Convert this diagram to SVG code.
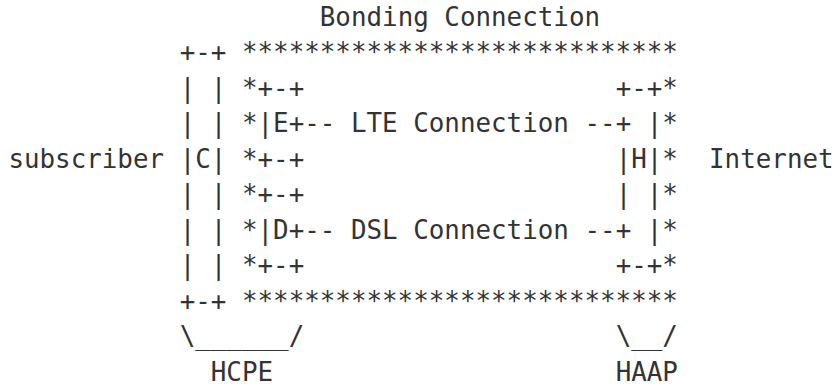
<svg xmlns="http://www.w3.org/2000/svg" width="834" height="385" viewBox="0 0 834 385">
<style>
text{font-family:"DejaVu Sans Mono","Liberation Mono",monospace;font-size:25.87px;fill:#333;white-space:pre}
</style>
<rect width="834" height="385" fill="#fff"/>
<g id="bonding">
<text x="319.8" y="26" xml:space="preserve">Bonding Connection</text>
<text x="241.95" y="61.45">****************************</text>
<text x="241.95" y="96.9">*</text>
<text x="241.95" y="132.35">*</text>
<text x="241.95" y="167.8">*</text>
<text x="241.95" y="203.25">*</text>
<text x="241.95" y="238.7">*</text>
<text x="241.95" y="274.15">*</text>
<text x="662.34" y="96.9">*</text>
<text x="662.34" y="132.35">*</text>
<text x="662.34" y="167.8">*</text>
<text x="662.34" y="203.25">*</text>
<text x="662.34" y="238.7">*</text>
<text x="662.34" y="274.15">*</text>
<text x="241.95" y="309.6">****************************</text>
</g>
<g id="hcpe">
<text x="179.67" y="61.45">+-+</text>
<text x="179.67" y="96.9" xml:space="preserve">| |</text>
<text x="179.67" y="132.35" xml:space="preserve">| |</text>
<text x="179.67" y="167.8">|C|</text>
<text x="179.67" y="203.25" xml:space="preserve">| |</text>
<text x="179.67" y="238.7" xml:space="preserve">| |</text>
<text x="179.67" y="274.15" xml:space="preserve">| |</text>
<text x="179.67" y="309.6">+-+</text>
<text x="179.67" y="345.05">\______/</text>
<text x="210.81" y="380.5">HCPE</text>
</g>
<g id="lte-port">
<text x="257.52" y="96.9">+-+</text>
<text x="257.52" y="132.35">|E+</text>
<text x="257.52" y="167.8">+-+</text>
</g>
<g id="dsl-port">
<text x="257.52" y="203.25">+-+</text>
<text x="257.52" y="238.7">|D+</text>
<text x="257.52" y="274.15">+-+</text>
</g>
<g id="haap">
<text x="615.63" y="96.9">+-+</text>
<text x="615.63" y="132.35" xml:space="preserve">+ |</text>
<text x="615.63" y="167.8">|H|</text>
<text x="615.63" y="203.25" xml:space="preserve">| |</text>
<text x="615.63" y="238.7" xml:space="preserve">+ |</text>
<text x="615.63" y="274.15">+-+</text>
<text x="615.63" y="345.05">\__/</text>
<text x="615.63" y="380.5">HAAP</text>
</g>
<g id="connectors">
<text x="304.23" y="132.35" xml:space="preserve">-- LTE Connection --</text>
<text x="304.23" y="238.7" xml:space="preserve">-- DSL Connection --</text>
</g>
<g id="subscriber">
<text x="8.4" y="167.8">subscriber</text>
</g>
<g id="internet">
<text x="709.05" y="167.8">Internet</text>
</g>
</svg>
